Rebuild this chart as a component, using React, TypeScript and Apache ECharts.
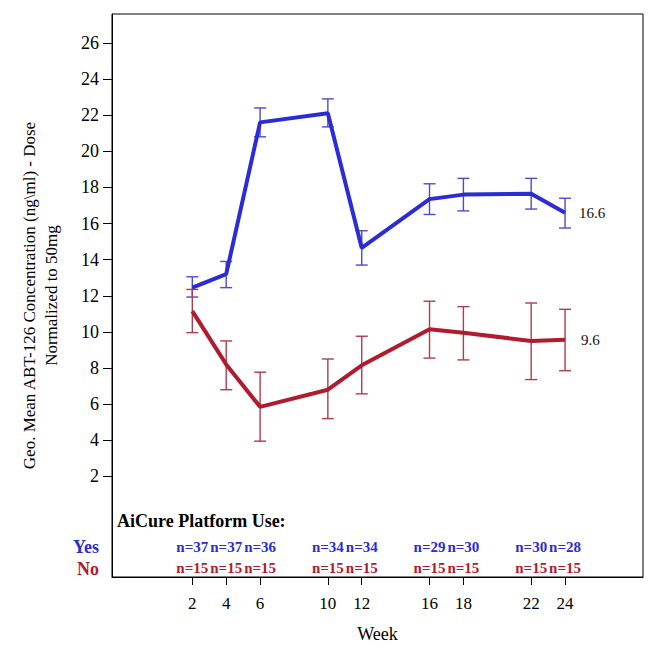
import React, { useEffect, useRef } from "react";
import * as echarts from "echarts";

const weeks = [2, 4, 6, 10, 12, 16, 18, 22, 24];
const yesMean = [12.45, 13.2, 21.6, 22.1, 14.65, 17.35, 17.6, 17.65, 16.6];
const yesLow = [11.93, 12.45, 20.8, 21.35, 13.7, 16.5, 16.7, 16.8, 15.75];
const yesHigh = [13.05, 13.9, 22.4, 22.9, 15.6, 18.2, 18.5, 18.5, 17.4];
const noMean = [11.15, 8.2, 5.85, 6.8, 8.15, 10.15, 9.95, 9.5, 9.56];
const noLow = [9.96, 6.8, 3.95, 5.2, 6.57, 8.55, 8.45, 7.36, 7.85];
const noHigh = [12.35, 9.5, 7.77, 8.5, 9.76, 11.7, 11.4, 11.6, 11.25];
const yesCounts = [37, 37, 36, 34, 34, 29, 30, 30, 28];
const noCounts = [15, 15, 15, 15, 15, 15, 15, 15, 15];
const yTicks = [2, 4, 6, 8, 10, 12, 14, 16, 18, 20, 22, 24, 26];
const xTicks = [2, 4, 6, 10, 12, 16, 18, 22, 24];

const X_MIN = -2.74;
const X_MAX = 28.6;
const Y_MIN = -3.57;
const Y_MAX = 27.6;

const BLUE = "#2c2cd4";
const BLUE_ERR = "#4b4bcc";
const RED = "#b01b2e";
const RED_ERR = "#b23a4c";
const FONT = "'Liberation Serif', 'Times New Roman', serif";

export default function App() {
  const ref = useRef<HTMLDivElement>(null);
  useEffect(() => {
    if (!ref.current) return;
    const chart = echarts.init(ref.current, undefined, { renderer: "svg" });

    const errRender = (color: string) => (params: any, api: any) => {
      const x = api.value(0);
      const lo = api.coord([x, api.value(1)]);
      const hi = api.coord([x, api.value(2)]);
      const w = 6;
      const style = { stroke: color, lineWidth: 1.4 };
      return {
        type: "group",
        children: [
          { type: "line", shape: { x1: lo[0], y1: lo[1], x2: hi[0], y2: hi[1] }, style },
          { type: "line", shape: { x1: hi[0] - w, y1: hi[1], x2: hi[0] + w, y2: hi[1] }, style },
          { type: "line", shape: { x1: lo[0] - w, y1: lo[1], x2: lo[0] + w, y2: lo[1] }, style },
        ],
      };
    };

    const YES_ROW = -1.89;
    const NO_ROW = -3.05;

    const nSeries = (row: number, counts: number[], color: string) => ({
      type: "custom",
      data: weeks.map((w, i) => [w, row, counts[i]]),
      renderItem: (params: any, api: any) => {
        const p = api.coord([api.value(0), api.value(1)]);
        return {
          type: "text",
          x: p[0],
          y: p[1],
          style: {
            text: "n=" + api.value(2),
            fontFamily: FONT,
            fontSize: 15,
            fontWeight: "bold",
            fill: color,
            align: "center",
            verticalAlign: "middle",
          },
        };
      },
      silent: true,
      z: 5,
    });

    const yLabelSeries = {
      type: "custom",
      clip: false,
      silent: true,
      data: yTicks.map((v) => [X_MIN, v]),
      renderItem: (params: any, api: any) => {
        const p = api.coord([api.value(0), api.value(1)]);
        return {
          type: "text",
          x: p[0] - 13,
          y: p[1],
          style: {
            text: String(api.value(1)),
            fontFamily: FONT,
            fontSize: 18,
            fill: "#000",
            align: "right",
            verticalAlign: "middle",
          },
        };
      },
    };
    const xLabelSeries = {
      type: "custom",
      clip: false,
      silent: true,
      data: xTicks.map((v) => [v, Y_MIN]),
      renderItem: (params: any, api: any) => {
        const p = api.coord([api.value(0), api.value(1)]);
        return {
          type: "text",
          x: p[0],
          y: p[1] + 26,
          style: {
            text: String(api.value(0)),
            fontFamily: FONT,
            fontSize: 17,
            fill: "#000",
            align: "center",
            verticalAlign: "middle",
          },
        };
      },
    };

    chart.setOption({
      animation: false,
      textStyle: { fontFamily: FONT },
      grid: {
        left: 104,
        right: 25,
        top: 6,
        bottom: 91,
        show: true,
        borderColor: "#000",
        borderWidth: 1,
        containLabel: false,
        outerBoundsMode: "none",
      },
      xAxis: {
        type: "value",
        min: X_MIN,
        max: X_MAX,
        name: "Week",
        nameLocation: "middle",
        nameGap: 48,
        nameTextStyle: { fontFamily: FONT, fontSize: 18, color: "#000" },
        axisLine: { show: true, onZero: false, lineStyle: { color: "#000", width: 1 } },
        axisTick: { show: true, customValues: xTicks, length: 8, lineStyle: { color: "#000" } },
        axisLabel: { show: false },
        splitLine: { show: false },
      },
      yAxis: {
        type: "value",
        min: Y_MIN,
        max: Y_MAX,
        name: "Geo. Mean ABT-126 Concentration (ng\\ml) - Dose\nNormalized to 50mg",
        nameLocation: "middle",
        nameGap: 50,
        nameTextStyle: { fontFamily: FONT, fontSize: 17, color: "#000", lineHeight: 22 },
        axisLine: { show: true, onZero: false, lineStyle: { color: "#000", width: 1 } },
        axisTick: { show: true, customValues: yTicks, length: 9, lineStyle: { color: "#000" } },
        axisLabel: { show: false },
        splitLine: { show: false },
      },
      graphic: [
        {
          type: "text",
          x: 109,
          y: 513,
          style: {
            text: "AiCure Platform Use:",
            fontFamily: FONT,
            fontSize: 18,
            fontWeight: "bold",
            fill: "#000",
            verticalAlign: "middle",
            align: "left",
          },
        },
        {
          type: "text",
          x: 91,
          y: 539,
          style: {
            text: "Yes",
            fontFamily: FONT,
            fontSize: 18,
            fontWeight: "bold",
            fill: BLUE,
            verticalAlign: "middle",
            align: "right",
          },
        },
        {
          type: "text",
          x: 91,
          y: 561,
          style: {
            text: "No",
            fontFamily: FONT,
            fontSize: 18,
            fontWeight: "bold",
            fill: RED,
            verticalAlign: "middle",
            align: "right",
          },
        },
      ],
      series: [
        {
          type: "custom",
          renderItem: errRender(BLUE_ERR),
          data: weeks.map((w, i) => [w, yesLow[i], yesHigh[i]]),
          z: 2,
        },
        {
          type: "custom",
          renderItem: errRender(RED_ERR),
          data: weeks.map((w, i) => [w, noLow[i], noHigh[i]]),
          z: 2,
        },
        {
          type: "line",
          data: weeks.map((w, i) => [w, yesMean[i]]),
          showSymbol: false,
          symbol: "none",
          lineStyle: { color: BLUE, width: 4 },
          itemStyle: { color: BLUE },
          z: 3,
          endLabel: {
            show: true,
            formatter: (p: any) => Number(p.value[1]).toFixed(1),
            distance: 14,
            fontFamily: FONT,
            fontSize: 15,
            color: "#111",
          },
        },
        {
          type: "line",
          data: weeks.map((w, i) => [w, noMean[i]]),
          showSymbol: false,
          symbol: "none",
          lineStyle: { color: RED, width: 4 },
          itemStyle: { color: RED },
          z: 3,
          endLabel: {
            show: true,
            formatter: (p: any) => Number(p.value[1]).toFixed(1),
            distance: 16,
            fontFamily: FONT,
            fontSize: 15,
            color: "#111",
          },
        },
        nSeries(YES_ROW, yesCounts, BLUE),
        nSeries(NO_ROW, noCounts, RED),
        yLabelSeries,
        xLabelSeries,
      ],
    });
    return () => chart.dispose();
  }, []);
  return <div ref={ref} style={{ width: 660, height: 660 }} />;
}
